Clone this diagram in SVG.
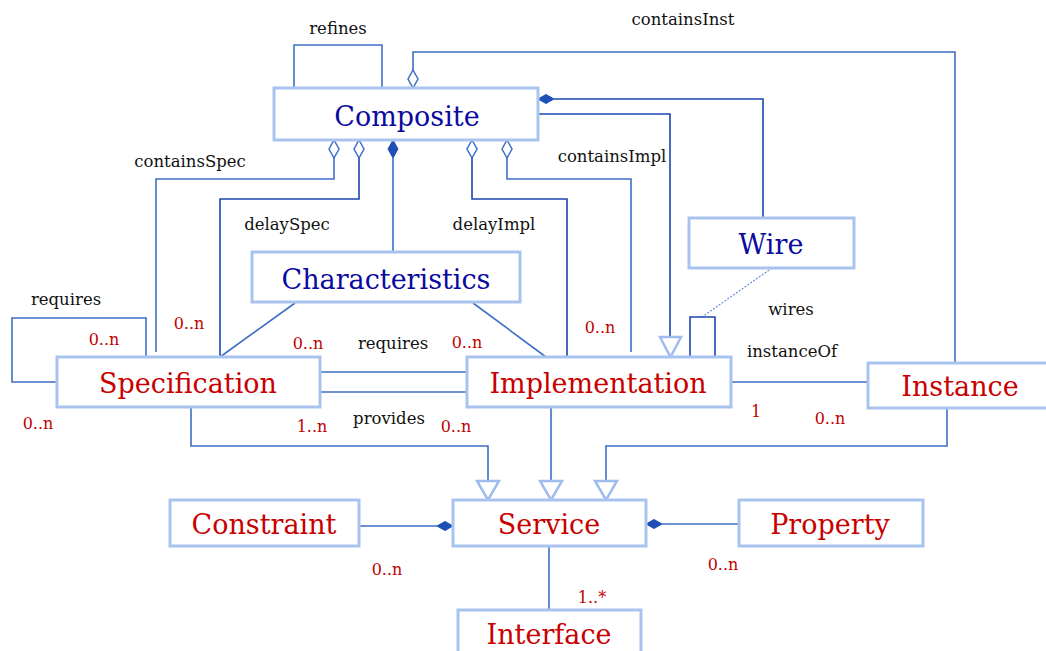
<svg xmlns="http://www.w3.org/2000/svg" width="1046" height="651" viewBox="0 0 1046 651">
<style>
.box{fill:#fff;stroke:#a9c3ef;stroke-width:3}
.nb{font-family:"DejaVu Serif","Liberation Serif",serif;font-size:27px;fill:#0a0aa0;text-anchor:middle}
.nr{font-family:"DejaVu Serif","Liberation Serif",serif;font-size:27px;fill:#c80000;text-anchor:middle}
.lb{font-family:"DejaVu Serif","Liberation Serif",serif;font-size:16.5px;fill:#111;text-anchor:middle}
.m{font-family:"DejaVu Serif","Liberation Serif",serif;font-size:16px;fill:#c00000;text-anchor:middle}
.c{fill:none;stroke:#3d6fc6;stroke-width:1.6}
.d{fill:none;stroke:#1d45b0;stroke-width:1.6}
.hd{fill:#fff;stroke:#3d6fc6;stroke-width:1.5}
.fd{fill:#1e4fb5;stroke:#1e4fb5;stroke-width:1}
.tri{fill:#fff;stroke:#9fbcec;stroke-width:2.5}
</style>
<g id="connectors">
<path class="c" d="M294,88 V45 H382 V88"/>
<path class="c" d="M413,70 V52 H955 V363"/>
<path class="c" d="M156,352 V179 H334 V158"/>
<path class="d" d="M220,357 V199 H359 V158"/>
<path class="c" d="M393,252 V158"/>
<path class="d" d="M472,158 V199 H567 V357"/>
<path class="c" d="M507,158 V179 H631 V352"/>
<path class="d" d="M538,114 H670 V337"/>
<path class="d" d="M554,99 H763 V218"/>
<path fill="none" stroke="#6f8fd8" stroke-width="1.2" stroke-dasharray="2,1.5" d="M772,268 L702,317"/>
<path class="d" d="M690,357 V317 H715 V357"/>
<path class="c" d="M295,303 L220,357"/>
<path class="c" d="M473,303 L546,357"/>
<path class="c" d="M320,372 H467 M320,392 H467"/>
<path class="c" d="M146,357 V318 H12 V382 H57"/>
<path class="c" d="M731,382 H868"/>
<path class="c" d="M191,408 V446 H488 V481"/>
<path class="c" d="M551,408 V481"/>
<path class="c" d="M947,408 V446 H606 V481"/>
<path class="c" d="M359,526 H437"/>
<path class="c" d="M739,524 H662"/>
<path class="c" d="M549,546 V610"/>
<path class="hd" d="M413,70 L418,79 L413,88 L408,79 Z"/>
<path class="hd" d="M334,140 L339,149 L334,158 L329,149 Z"/>
<path class="hd" d="M359,140 L364,149 L359,158 L354,149 Z"/>
<path class="fd" d="M393,140 L398,149 L393,158 L388,149 Z"/>
<path class="hd" d="M472,140 L477,149 L472,158 L467,149 Z"/>
<path class="hd" d="M507,140 L512,149 L507,158 L502,149 Z"/>
<path class="fd" d="M538,99 L546,94.5 L554,99 L546,103.5 Z"/>
<path class="fd" d="M453,526 L445,530.5 L437,526 L445,521.5 Z"/>
<path class="fd" d="M646,524 L654,519.5 L662,524 L654,528.5 Z"/>
<path class="tri" d="M660,337 L681,337 L670.5,357 Z"/>
<path class="tri" d="M477,481 L499,481 L488,500 Z"/>
<path class="tri" d="M540,481 L562,481 L551,500 Z"/>
<path class="tri" d="M595,481 L617,481 L606,500 Z"/>
</g>
<g id="composite"><rect class="box" x="274" y="88" width="264" height="52"/><text class="nb" x="407" y="126">Composite</text></g>
<g id="characteristics"><rect class="box" x="252" y="252" width="268" height="50"/><text class="nb" x="386" y="289">Characteristics</text></g>
<g id="wire"><rect class="box" x="689" y="218" width="165" height="50"/><text class="nb" x="771" y="254">Wire</text></g>
<g id="specification"><rect class="box" x="57" y="357" width="263" height="50"/><text class="nr" x="188" y="393">Specification</text></g>
<g id="implementation"><rect class="box" x="467" y="357" width="264" height="50"/><text class="nr" x="598" y="393">Implementation</text></g>
<g id="instance"><rect class="box" x="868" y="363" width="190" height="45"/><text class="nr" x="960" y="396">Instance</text></g>
<g id="service"><rect class="box" x="453" y="500" width="193" height="46"/><text class="nr" x="549" y="534">Service</text></g>
<g id="constraint"><rect class="box" x="170" y="500" width="189" height="46"/><text class="nr" x="264" y="534">Constraint</text></g>
<g id="property"><rect class="box" x="739" y="500" width="184" height="46"/><text class="nr" x="830" y="534">Property</text></g>
<g id="interface"><rect class="box" x="458" y="610" width="183" height="50"/><text class="nr" x="549" y="644">Interface</text></g>
<g id="labels">
<text class="lb" x="338" y="34">refines</text>
<text class="lb" x="683" y="25">containsInst</text>
<text class="lb" x="190" y="167">containsSpec</text>
<text class="lb" x="287" y="230">delaySpec</text>
<text class="lb" x="494" y="230">delayImpl</text>
<text class="lb" x="612" y="162">containsImpl</text>
<text class="lb" x="791" y="315">wires</text>
<text class="lb" x="792" y="357">instanceOf</text>
<text class="lb" x="66" y="305">requires</text>
<text class="lb" x="393" y="349">requires</text>
<text class="lb" x="389" y="424">provides</text>
<text class="m" x="104" y="345">0..n</text>
<text class="m" x="189" y="329">0..n</text>
<text class="m" x="308" y="349">0..n</text>
<text class="m" x="467" y="348">0..n</text>
<text class="m" x="600" y="333">0..n</text>
<text class="m" x="38" y="429">0..n</text>
<text class="m" x="312" y="432">1..n</text>
<text class="m" x="456" y="432">0..n</text>
<text class="m" x="756" y="417">1</text>
<text class="m" x="830" y="424">0..n</text>
<text class="m" x="387" y="575">0..n</text>
<text class="m" x="723" y="570">0..n</text>
<text class="m" x="592" y="603">1..*</text>
</g>
</svg>
